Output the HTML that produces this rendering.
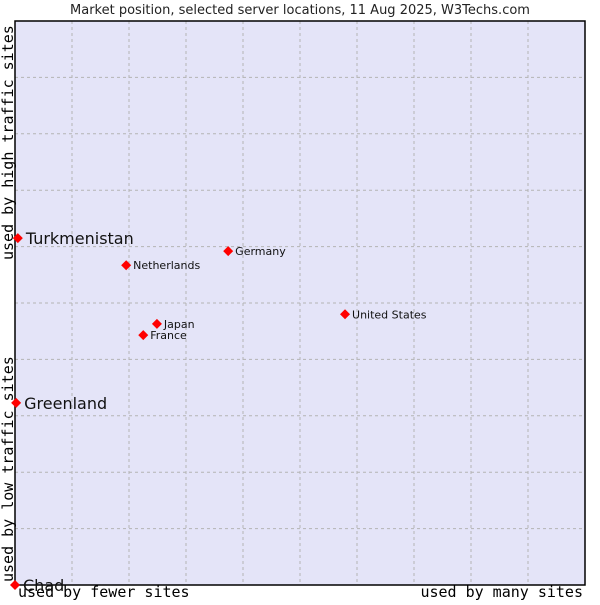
<!DOCTYPE html>
<html><head><meta charset="utf-8"><style>
body{margin:0;background:#fff;width:600px;height:600px;overflow:hidden}
svg text{font-family:"DejaVu Sans","Liberation Sans",sans-serif}
.mono{font-family:"DejaVu Sans Mono","Liberation Mono",monospace}
</style></head><body>
<svg id="chart" width="600" height="600">
<text x="300" y="14" font-size="13" text-anchor="middle" fill="#222">Market position, selected server locations, 11 Aug 2025, W3Techs.com</text>
<rect x="15" y="21" width="570" height="564" fill="#e4e4f8"/>
<g id="grid"></g>
<rect x="15" y="21" width="570" height="564" fill="none" stroke="#000" stroke-width="1.5"/>
<text class="mono" x="18" y="597" font-size="15">used by fewer sites</text>
<text class="mono" x="583" y="597" font-size="15" text-anchor="end">used by many sites</text>
<text class="mono" transform="translate(13,260) rotate(-90)" font-size="15">used by high traffic sites</text>
<text class="mono" transform="translate(13,582) rotate(-90)" font-size="15">used by low traffic sites</text>
<g id="points"></g>
</svg>
<script>
const names=["Chad","Greenland","Turkmenistan","Netherlands","Germany","Japan","France","United States"];
const xVals=[0,0.2,0.5,19.5,37.4,24.9,22.5,57.9];
const yVals=[0,32.3,61.5,56.7,59.2,46.3,44.3,48.0];
const bigLabel=[true,true,true,false,false,false,false,false];
const gridTicks=[10,20,30,40,50,60,70,80,90];
const NS="http://www.w3.org/2000/svg";
const xs=v=>15+v*5.7, ys=v=>585-v*5.64;
const g=document.getElementById('grid');
gridTicks.forEach(t=>{
  const v=document.createElementNS(NS,'line');
  v.setAttribute('x1',xs(t));v.setAttribute('x2',xs(t));v.setAttribute('y1',21);v.setAttribute('y2',585);
  v.setAttribute('stroke','#b4b4b4');v.setAttribute('stroke-dasharray','3,3');
  
  
  g.appendChild(v);
  const h=document.createElementNS(NS,'line');
  h.setAttribute('y1',ys(t));h.setAttribute('y2',ys(t));h.setAttribute('x1',15);h.setAttribute('x2',585);
  h.setAttribute('stroke','#b4b4b4');h.setAttribute('stroke-dasharray','3,3');
  
  
  g.appendChild(h);
});
const p=document.getElementById('points');
names.forEach((n,i)=>{
  const x=xs(xVals[i]),y=ys(yVals[i]);
  const d=document.createElementNS(NS,'path');
  d.setAttribute('d',`M${x} ${y-5}L${x+5} ${y}L${x} ${y+5}L${x-5} ${y}Z`);
  d.setAttribute('fill','#f00');
  
  
  p.appendChild(d);
  const t=document.createElementNS(NS,'text');
  t.setAttribute('x',x+(bigLabel[i]?8:7));
  t.setAttribute('y',y+(bigLabel[i]?6:4));
  t.setAttribute('font-size',bigLabel[i]?16:11);
  t.setAttribute('fill','#111');
  t.textContent=n;
  
  
  p.appendChild(t);
});
</script>
</body></html>
